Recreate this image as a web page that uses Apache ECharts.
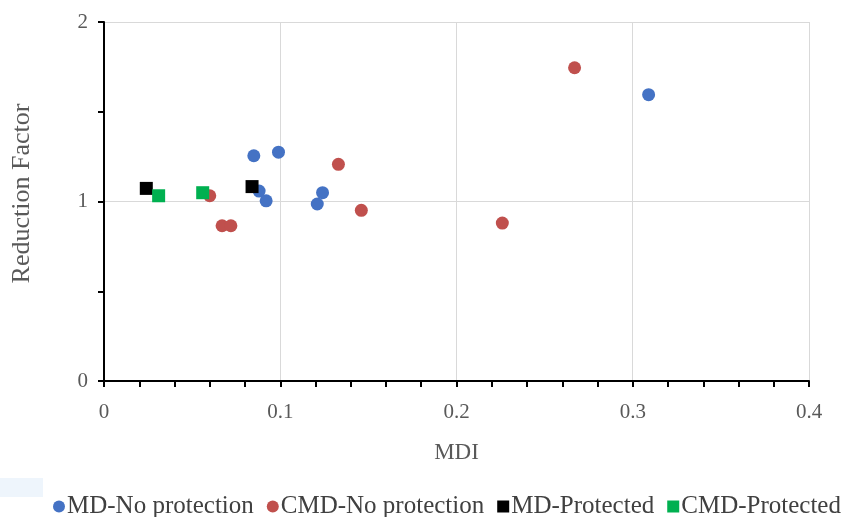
<!DOCTYPE html>
<html><head><meta charset="utf-8">
<script src="https://cdn.jsdelivr.net/npm/echarts@6/dist/echarts.min.js"></script>
<style>html,body{margin:0;padding:0;background:#fff}#c{width:847px;height:517px}</style>
</head><body><div id="c"></div>
<script>
const seriesNames = ['MD-No protection', 'CMD-No protection', 'MD-Protected', 'CMD-Protected'];
const mdNoProtection = [[0.085, 1.255], [0.099, 1.275], [0.088, 1.058], [0.092, 1.004], [0.124, 1.049], [0.121, 0.986], [0.309, 1.595]];
const cmdNoProtection = [[0.133, 1.207], [0.146, 0.951], [0.060, 1.032], [0.067, 0.865], [0.072, 0.865], [0.267, 1.745], [0.226, 0.880]];
const mdProtected = [[0.024, 1.073], [0.084, 1.083]];
const cmdProtected = [[0.031, 1.032], [0.056, 1.049]];
const xTicks = [0, 0.1, 0.2, 0.3, 0.4];
const yTicks = [0, 1, 2];

const font = '"Liberation Serif", "Times New Roman", serif';
const chart = echarts.init(document.getElementById('c'), null, {renderer: 'canvas'});
const colors = ['#4472c4', '#c0504d', '#000000', '#00b050'];
const datas = [mdNoProtection, cmdNoProtection, mdProtected, cmdProtected];
const symbols = ['circle', 'circle', 'rect', 'rect'];
chart.setOption({
  animation: false,
  graphic: [{type: 'rect', left: 0, top: 478, shape: {width: 43, height: 19}, style: {fill: '#eef5fc'}, silent: true}],
  grid: {left: 104, right: 38, top: 22, bottom: 136},
  legend: {
    top: 489, left: 48,
    itemWidth: 12, itemHeight: 12, itemGap: 13,
    textStyle: {fontFamily: font, fontSize: 25, color: '#404040', padding: [0, 0, 0, -3]},
    data: seriesNames.map((n, i) => ({name: n, icon: symbols[i]}))
  },
  xAxis: {
    type: 'value', min: 0, max: 0.4, interval: 0.1,
    name: 'MDI', nameLocation: 'middle', nameGap: 60,
    nameTextStyle: {fontFamily: font, fontSize: 23, color: '#595959'},
    axisLine: {onZero: false, lineStyle: {color: '#000', width: 2}},
    axisTick: {show: true, length: 6, lineStyle: {color: '#000', width: 2}},
    minorTick: {show: true, splitNumber: 5, length: 6, lineStyle: {color: '#000', width: 2}},
    axisLabel: {fontFamily: font, fontSize: 21, color: '#595959', margin: 21,
      formatter: v => xTicks.some(t => Math.abs(t - v) < 1e-9) ? String(+v.toFixed(1)) : ''},
    splitLine: {show: true, lineStyle: {color: '#d9d9d9', width: 1}}
  },
  yAxis: {
    type: 'value', min: 0, max: 2, interval: 1,
    name: 'Reduction Factor', nameLocation: 'middle', nameGap: 69,
    nameTextStyle: {fontFamily: font, fontSize: 26, color: '#595959', padding: [0, 0, 0, 16]},
    axisLine: {onZero: false, lineStyle: {color: '#000', width: 2}},
    axisTick: {show: true, length: 6, lineStyle: {color: '#000', width: 2}},
    minorTick: {show: true, splitNumber: 2, length: 6, lineStyle: {color: '#000', width: 2}},
    axisLabel: {fontFamily: font, fontSize: 21, color: '#595959', margin: 16,
      formatter: v => yTicks.includes(v) ? String(v) : ''},
    splitLine: {show: true, lineStyle: {color: '#d9d9d9', width: 1}}
  },
  series: seriesNames.map((n, i) => ({
    name: n, type: 'scatter', data: datas[i],
    symbol: symbols[i], symbolSize: 13,
    itemStyle: {color: colors[i], opacity: 1}
  }))
});
</script></body></html>
